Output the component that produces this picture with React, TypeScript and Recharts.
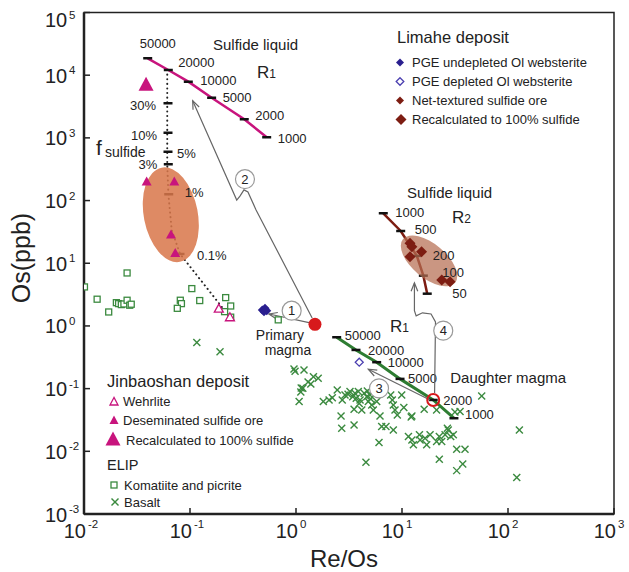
import React from 'react'
import { ScatterChart, Scatter, XAxis, YAxis, ReferenceArea } from 'recharts'

type P = { x: number; y: number }
type RP = { x: number; y: number; r: string }

// ---- data (Re/Os, Os ppb) ----
const xTicks = [0.01, 0.1, 1, 10, 100, 1000]
const yTicks = [0.001, 0.01, 0.1, 1, 10, 100, 1000, 10000, 100000]

const komatiite: P[] = [
  { x: 0.0101, y: 4.19 }, { x: 0.0255, y: 7.0 }, { x: 0.0133, y: 2.67 }, { x: 0.0171, y: 1.67 },
  { x: 0.0202, y: 2.35 }, { x: 0.0212, y: 2.27 }, { x: 0.0225, y: 2.19 }, { x: 0.0238, y: 2.24 },
  { x: 0.0255, y: 2.57 }, { x: 0.027, y: 2.14 }, { x: 0.0279, y: 2.22 }, { x: 0.081, y: 2.57 },
  { x: 0.083, y: 2.27 }, { x: 0.0759, y: 1.91 }, { x: 0.104, y: 3.94 }, { x: 0.1235, y: 2.54 },
  { x: 0.217, y: 2.83 }, { x: 0.242, y: 2.08 }, { x: 0.212, y: 1.69 }, { x: 0.242, y: 1.38 },
  { x: 0.68, y: 1.25 },
]

const basalt: P[] = [
  { x: 0.957, y: 0.206 }, { x: 1.19, y: 0.199 }, { x: 1.46, y: 0.155 }, { x: 1.62, y: 0.147 },
  { x: 1.38, y: 0.119 }, { x: 1.16, y: 0.101 }, { x: 1.11, y: 0.0886 }, { x: 1.07, y: 0.0621 },
  { x: 1.81, y: 0.0621 }, { x: 2.2, y: 0.0718 }, { x: 2.45, y: 0.0953 }, { x: 2.73, y: 0.066 },
  { x: 2.9, y: 0.0794 }, { x: 3.23, y: 0.0896 }, { x: 3.43, y: 0.0745 }, { x: 3.6, y: 0.0845 },
  { x: 3.87, y: 0.0896 }, { x: 4.02, y: 0.066 }, { x: 3.53, y: 0.0469 }, { x: 4.17, y: 0.0457 },
  { x: 4.71, y: 0.0919 }, { x: 4.65, y: 0.0745 }, { x: 4.81, y: 0.0621 }, { x: 5.18, y: 0.055 },
  { x: 5.36, y: 0.0457 }, { x: 4.99, y: 0.0794 }, { x: 5.77, y: 0.0621 }, { x: 2.66, y: 0.0367 },
  { x: 2.7, y: 0.0234 }, { x: 3.53, y: 0.0264 }, { x: 6.2, y: 0.0367 }, { x: 6.43, y: 0.0248 },
  { x: 7.06, y: 0.0248 }, { x: 8.28, y: 0.0219 }, { x: 6.07, y: 0.0138 }, { x: 7.82, y: 0.0794 },
  { x: 8.1, y: 0.066 }, { x: 8.28, y: 0.055 }, { x: 8.59, y: 0.0457 }, { x: 9.03, y: 0.0381 },
  { x: 9.93, y: 0.0794 }, { x: 10.4, y: 0.0498 }, { x: 12.4, y: 0.0367 }, { x: 12.2, y: 0.0352 },
  { x: 16.2, y: 0.0469 }, { x: 21.2, y: 0.0457 }, { x: 31.6, y: 0.0425 }, { x: 35.3, y: 0.043 },
  { x: 11.5, y: 0.0172 }, { x: 12.4, y: 0.0152 }, { x: 12.8, y: 0.0127 }, { x: 14.6, y: 0.0183 },
  { x: 14.8, y: 0.0152 }, { x: 16.5, y: 0.0162 }, { x: 17.1, y: 0.0127 }, { x: 18.4, y: 0.0183 },
  { x: 21.2, y: 0.0143 }, { x: 22.5, y: 0.0172 }, { x: 23.7, y: 0.0143 }, { x: 25.5, y: 0.0183 },
  { x: 27.3, y: 0.0219 }, { x: 28.8, y: 0.0172 }, { x: 30.5, y: 0.0183 }, { x: 26.8, y: 0.0234 },
  { x: 32.8, y: 0.0108 }, { x: 39.3, y: 0.0108 }, { x: 22.5, y: 0.00748 }, { x: 37.4, y: 0.0063 },
  { x: 32.8, y: 0.00492 }, { x: 4.57, y: 0.0067 }, { x: 56.5, y: 0.0765 }, { x: 128, y: 0.0219 },
  { x: 121, y: 0.00381 }, { x: 0.116, y: 0.542 }, { x: 0.192, y: 0.389 }, { x: 0.98, y: 0.19 },
  { x: 1.3, y: 0.128 }, { x: 1.12, y: 0.102 }, { x: 2.05, y: 0.0661 }, { x: 3.1, y: 0.0812 },
  { x: 3.7, y: 0.0702 }, { x: 4.4, y: 0.0843 }, { x: 5.05, y: 0.0688 }, { x: 3.95, y: 0.0578 },
]

const wehrlite: P[] = [{ x: 0.187, y: 1.87 }, { x: 0.238, y: 1.36 }]
const disseminated: P[] = [
  { x: 0.039, y: 198 }, { x: 0.0711, y: 198 }, { x: 0.0662, y: 28.3 }, { x: 0.0726, y: 14.4 },
]
const jbRecalculated: P[] = [{ x: 0.0385, y: 6950 }]

const undepleted: P[] = [
  { x: 0.481, y: 1.8 }, { x: 0.51, y: 1.92 }, { x: 0.53, y: 1.75 }, { x: 0.499, y: 1.69 },
]
const depleted: P[] = [{ x: 3.95, y: 0.264 }]
const limaheRecalculated: P[] = [
  { x: 11.9, y: 20.8 }, { x: 12.4, y: 18.4 }, { x: 15.3, y: 15.3 }, { x: 11.9, y: 12.7 },
  { x: 23.7, y: 5.42 }, { x: 28.4, y: 5.09 },
]

const primaryMagma: P[] = [{ x: 1.51, y: 1.06 }]
const daughterMagma: P[] = [{ x: 19.7, y: 0.066 }]

// mixing lines, labelled by R factor / sulfide fraction
const r1Top: RP[] = [
  { x: 0.0399, y: 18600, r: '50000' }, { x: 0.0624, y: 12100, r: '20000' },
  { x: 0.0964, y: 7880, r: '10000' }, { x: 0.16, y: 4380, r: '5000' },
  { x: 0.325, y: 1980, r: '2000' }, { x: 0.529, y: 1023, r: '1000' },
]
const r1Daughter: RP[] = [
  { x: 2.42, y: 0.66, r: '50000' }, { x: 3.68, y: 0.414, r: '20000' },
  { x: 5.77, y: 0.264, r: '10000' }, { x: 9.58, y: 0.143, r: '5000' },
  { x: 19.7, y: 0.066, r: '2000' }, { x: 30.9, y: 0.0337, r: '1000' },
]
const r2: RP[] = [
  { x: 6.66, y: 62.7, r: '1000' }, { x: 9.72, y: 32.7, r: '500' }, { x: 13.8, y: 13.1, r: '200' },
  { x: 15.9, y: 6.34, r: '100' }, { x: 17.3, y: 3.27, r: '50' },
]
const fSulfide: RP[] = [
  { x: 0.062, y: 3560, r: '30%' }, { x: 0.062, y: 1210, r: '10%' }, { x: 0.062, y: 603, r: '5%' },
  { x: 0.0624, y: 379, r: '3%' }, { x: 0.063, y: 126, r: '1%' }, { x: 0.0805, y: 14.1, r: '0.1%' },
]
const fSulfidePath: P[] = [
  { x: 0.061, y: 12100 }, { x: 0.061, y: 379 }, { x: 0.0625, y: 126 }, { x: 0.0672, y: 34 },
  { x: 0.0805, y: 14.1 }, { x: 0.233, y: 1.44 },
]

// arrows: first point is the tip
const arrow1: P[] = [{ x: 0.556, y: 1.55 }, { x: 1.36, y: 1.12 }]
const arrow2: P[] = [
  { x: 0.106, y: 3920 }, { x: 0.276, y: 102 }, { x: 0.296, y: 118 }, { x: 0.323, y: 148 },
  { x: 0.352, y: 137 }, { x: 0.42, y: 70.8 }, { x: 1.42, y: 1.34 },
]
const arrow3: P[] = [{ x: 4.81, y: 0.204 }, { x: 18.4, y: 0.066 }]
const arrow4: P[] = [
  { x: 13.1, y: 4.85 }, { x: 13.1, y: 1.75 }, { x: 13.6, y: 1.45 }, { x: 15.6, y: 1.62 },
  { x: 18.8, y: 1.55 }, { x: 20.7, y: 1.16 }, { x: 20.3, y: 0.0854 },
]
const steps = [
  { x: 0.91, y: 1.75, n: '1' }, { x: 0.33, y: 219, n: '2' },
  { x: 6.07, y: 0.101, n: '3' }, { x: 24.5, y: 0.841, n: '4' },
]
const jbField: P[] = [{ x: 0.0659, y: 59.4 }]
const r2Field: P[] = [{ x: 18.0, y: 10.9 }]

// label placement (px offsets from the tick dash)
const r1TopOffset = [[-8, -10], [10, -3], [12, 3], [11, 4], [11, 1], [11, 6]]
const r1DaughterOffset = [[8, 3], [12, 5], [11, 5], [8, 4], [10, 5], [11, 1]]
const r2Offset = [[12, 4], [14, 3], [16, 4], [19, 1], [25, 4]]
const fOffset = [[-12, 7], [-11, 7], [9, 6], [-11, 5], [16, 3], [17, 6]]
const fAnchor = ['end', 'end', 'start', 'end', 'start', 'start']

const FONT = '"Liberation Sans", Arial, sans-serif'
const INK = '#222'
const MAGENTA = '#c8147d'
const GREEN = '#3b8a3f'
const BLUE = '#2a1f8f'
const BROWN = '#7d1d12'
const RED = '#d7191c'
const ARROW = '#666'

const tri = (cx: number, cy: number, w: number, h: number, fill: string, stroke = 'none') => (
  <polygon
    points={`${cx},${cy - h * 0.6} ${cx - w / 2},${cy + h * 0.4} ${cx + w / 2},${cy + h * 0.4}`}
    fill={fill} stroke={stroke} strokeWidth={1.3}
  />
)
const diamond = (cx: number, cy: number, s: number, fill: string, stroke = 'none') => (
  <polygon
    points={`${cx},${cy - s} ${cx + s},${cy} ${cx},${cy + s} ${cx - s},${cy}`}
    fill={fill} stroke={stroke} strokeWidth={1.3}
  />
)
const square = (cx: number, cy: number) => (
  <rect x={cx - 3} y={cy - 3} width={6} height={6} fill="#fff" stroke={GREEN} strokeWidth={1.3} />
)
const cross = (cx: number, cy: number) => (
  <g stroke={GREEN} strokeWidth={1.4}>
    <line x1={cx - 3.5} y1={cy - 3.5} x2={cx + 3.5} y2={cy + 3.5} />
    <line x1={cx - 3.5} y1={cy + 3.5} x2={cx + 3.5} y2={cy - 3.5} />
  </g>
)

const dashShape = (color = '#111') => (p: any) => (
  <line x1={p.cx - 4.5} x2={p.cx + 4.5} y1={p.cy} y2={p.cy} stroke={color} strokeWidth={2.5} />
)

const labelShape = (rows: RP[], offsets: number[][], anchors?: string[]) => (p: any) => {
  const i = rows.findIndex(d => d.r === p.payload.r)
  const [dx, dy] = offsets[i] ?? [10, 4]
  return (
    <text x={p.cx + dx} y={p.cy + dy} fontSize={13} fill={INK} fontFamily={FONT}
      textAnchor={(anchors?.[i] ?? 'start') as any}>
      {p.payload.r}
    </text>
  )
}

const arrowShape = (tip: P, angle: number) => (p: any) => {
  if (p.payload.x !== tip.x || p.payload.y !== tip.y) return <g />
  const a = (angle * Math.PI) / 180
  const L = 9
  const s = 0.38
  const x1 = p.cx + L * Math.cos(a - s)
  const y1 = p.cy + L * Math.sin(a - s)
  const x2 = p.cx + L * Math.cos(a + s)
  const y2 = p.cy + L * Math.sin(a + s)
  return <polyline points={`${x1},${y1} ${p.cx},${p.cy} ${x2},${y2}`} fill="none" stroke={ARROW} strokeWidth={1.2} />
}

const ellipseShape = (rx: number, ry: number, rot: number, fill: string, opacity: number) => (p: any) => (
  <ellipse cx={p.cx} cy={p.cy} rx={rx} ry={ry} transform={`rotate(${rot} ${p.cx} ${p.cy})`}
    fill={fill} fillOpacity={opacity} />
)

const YTick = (props: any) => {
  const { x, y, payload } = props
  const exp = Math.round(Math.log10(payload.value))
  const dy = exp === 5 ? 7 : 0
  return (
    <g fontFamily={FONT} fill={INK}>
      <line x1={x} x2={x + 6} y1={y} y2={y} stroke={INK} strokeWidth={1.5} />
      <text x={x - 39} y={y + 7.5 + dy} fontSize={20}>10</text>
      <text x={x - 15} y={y - 1 + dy} fontSize={11.5}>{exp}</text>
    </g>
  )
}

const XTick = (props: any) => {
  const { x, y, payload } = props
  const exp = Math.round(Math.log10(payload.value))
  return (
    <g fontFamily={FONT} fill={INK}>
      <line x1={x} x2={x} y1={y} y2={y - 6} stroke={INK} strokeWidth={1.5} />
      <text x={x + 2} y={y + 24} fontSize={20} textAnchor="end">10</text>
      <text x={x + 4} y={y + 14} fontSize={11.5}>{exp}</text>
    </g>
  )
}

const none = () => <g />

export default function App() {
  const line = (stroke: string, width: number, extra: object = {}) => ({ stroke, strokeWidth: width, fill: 'none', ...extra })
  return (
    <div style={{ position: 'absolute', left: 0, top: 0, width: 629, height: 572, background: '#fff' }}>
      <ScatterChart width={629} height={572} margin={{ top: 12.5, right: 15, bottom: 0, left: 0 }}>
        <XAxis type="number" dataKey="x" scale="log" domain={[0.01, 1000]} ticks={xTicks} allowDataOverflow
          interval={0} tickSize={0} tickMargin={0} height={58} tick={<XTick />}
          axisLine={{ stroke: INK, strokeWidth: 2.5 }} />
        <YAxis type="number" dataKey="y" scale="log" domain={[0.001, 100000]} ticks={yTicks} allowDataOverflow
          interval={0} tickSize={0} tickMargin={0} width={84} tick={<YTick />}
          axisLine={{ stroke: INK, strokeWidth: 2.5 }} />
        <ReferenceArea x1={0.01} x2={1000} y1={0.001} y2={100000} fill="none" stroke={INK} strokeWidth={1.5} />

        <Scatter data={fSulfidePath} shape={none} isAnimationActive={false}
          line={line('#222', 2, { strokeDasharray: '0.1 4.5', strokeLinecap: 'round' })} />
        <Scatter data={fSulfide} shape={dashShape()} isAnimationActive={false} />
        <Scatter data={r1Top} shape={dashShape()} line={line(MAGENTA, 2.5)} isAnimationActive={false} />
        <Scatter data={r2} shape={dashShape()} line={line(BROWN, 2.5)} isAnimationActive={false} />
        <Scatter data={r1Daughter} shape={dashShape()} line={line('#2e7d32', 3)} isAnimationActive={false} />

        <Scatter data={jbField} shape={ellipseShape(27, 48, -11, '#d8774a', 0.86)} isAnimationActive={false} />
        <Scatter data={r2Field} shape={ellipseShape(34, 17, 40, '#b56d52', 0.72)} isAnimationActive={false} />

        <Scatter data={fSulfide} shape={labelShape(fSulfide, fOffset, fAnchor)} isAnimationActive={false} />
        <Scatter data={r1Top} shape={labelShape(r1Top, r1TopOffset)} isAnimationActive={false} />
        <Scatter data={r2} shape={labelShape(r2, r2Offset)} isAnimationActive={false} />
        <Scatter data={r1Daughter} shape={labelShape(r1Daughter, r1DaughterOffset)} isAnimationActive={false} />

        <Scatter data={arrow1} shape={arrowShape(arrow1[0], 12)} line={line(ARROW, 1.2)} isAnimationActive={false} />
        <Scatter data={arrow2} shape={arrowShape(arrow2[0], 66)} line={line(ARROW, 1.2)} isAnimationActive={false} />
        <Scatter data={arrow3} shape={arrowShape(arrow3[0], 27)} line={line(ARROW, 1.2)} isAnimationActive={false} />
        <Scatter data={arrow4} shape={arrowShape(arrow4[0], 90)} line={line(ARROW, 1.2)} isAnimationActive={false} />

        <Scatter data={komatiite} shape={(p: any) => square(p.cx, p.cy)} isAnimationActive={false} />
        <Scatter data={basalt} shape={(p: any) => cross(p.cx, p.cy)} isAnimationActive={false} />
        <Scatter data={wehrlite} shape={(p: any) => tri(p.cx, p.cy, 9, 8, '#fff', MAGENTA)} isAnimationActive={false} />
        <Scatter data={disseminated} shape={(p: any) => tri(p.cx, p.cy, 10, 9, MAGENTA)} isAnimationActive={false} />
        <Scatter data={jbRecalculated} shape={(p: any) => tri(p.cx, p.cy, 15, 14, MAGENTA)} isAnimationActive={false} />
        <Scatter data={undepleted} shape={(p: any) => diamond(p.cx, p.cy, 4.5, BLUE)} isAnimationActive={false} />
        <Scatter data={depleted} shape={(p: any) => diamond(p.cx, p.cy, 4, '#fff', '#4b3fb0')} isAnimationActive={false} />
        <Scatter data={limaheRecalculated} shape={(p: any) => diamond(p.cx, p.cy, 5.5, BROWN)} isAnimationActive={false} />

        <Scatter data={primaryMagma} isAnimationActive={false} shape={(p: any) => (
          <g fontFamily={FONT} fontSize={14} fill={INK}>
            <circle cx={p.cx} cy={p.cy} r={6.5} fill={RED} />
            <text x={p.cx - 35} y={p.cy + 16} textAnchor="middle">Primary</text>
            <text x={p.cx - 27} y={p.cy + 31} textAnchor="middle">magma</text>
          </g>
        )} />
        <Scatter data={daughterMagma} isAnimationActive={false} shape={(p: any) => (
          <g>
            <circle cx={p.cx} cy={p.cy} r={6} fill="none" stroke={RED} strokeWidth={2} />
            <text x={p.cx + 17} y={p.cy - 17} fontFamily={FONT} fontSize={15} fill={INK}>Daughter magma</text>
          </g>
        )} />
        <Scatter data={steps} isAnimationActive={false} shape={(p: any) => (
          <g>
            <circle cx={p.cx} cy={p.cy} r={9.5} fill="#fff" stroke="#999" strokeWidth={1.2} />
            <text x={p.cx} y={p.cy + 4.5} textAnchor="middle" fontFamily={FONT} fontSize={13} fill={INK}>{p.payload.n}</text>
          </g>
        )} />
      </ScatterChart>

      <svg width={629} height={572} style={{ position: 'absolute', left: 0, top: 0, pointerEvents: 'none' }}
        fontFamily={FONT} fill={INK}>
        <text transform="translate(30 258) rotate(-90)" textAnchor="middle" fontSize={25}>Os(ppb)</text>
        <text x={344} y={567} textAnchor="middle" fontSize={24}>Re/Os</text>

        <text x={213} y={50} fontSize={15}>Sulfide liquid</text>
        <text x={257} y={78} fontSize={17}>R<tspan fontSize={12}>1</tspan></text>
        <text x={96} y={155} fontSize={21}>f</text>
        <text x={105} y={157} fontSize={14}>sulfide</text>
        <text x={407} y={198} fontSize={15}>Sulfide liquid</text>
        <text x={452} y={223} fontSize={17}>R<tspan fontSize={12}>2</tspan></text>
        <text x={390} y={332} fontSize={17}>R<tspan fontSize={12}>1</tspan></text>

        <text x={397} y={43} fontSize={16.5}>Limahe deposit</text>
        {diamond(400, 62.5, 4, BLUE)}
        <text x={412} y={67} fontSize={13}>PGE undepleted Ol websterite</text>
        {diamond(400, 81.5, 3.8, '#fff', '#4b3fb0')}
        <text x={412} y={86} fontSize={13}>PGE depleted Ol websterite</text>
        {diamond(400, 100.5, 4, BROWN)}
        <text x={412} y={105} fontSize={13}>Net-textured sulfide ore</text>
        {diamond(401, 119.5, 5.5, BROWN)}
        <text x={412} y={124} fontSize={13}>Recalculated to 100% sulfide</text>

        <text x={107} y={387} fontSize={16.5}>Jinbaoshan deposit</text>
        {tri(114, 402, 8, 7.5, '#fff', MAGENTA)}
        <text x={123} y={406} fontSize={13}>Wehrlite</text>
        {tri(114, 420.5, 9, 8.5, MAGENTA)}
        <text x={123} y={425} fontSize={13}>Deseminated sulfide ore</text>
        {tri(113, 440, 15, 14, MAGENTA)}
        <text x={126} y={445} fontSize={13}>Recalculated to 100% sulfide</text>
        <text x={107} y={470} fontSize={14.5}>ELIP</text>
        {square(114, 485)}
        <text x={124} y={490} fontSize={13}>Komatiite and picrite</text>
        {cross(115, 502)}
        <text x={124} y={507} fontSize={13}>Basalt</text>
      </svg>
    </div>
  )
}
